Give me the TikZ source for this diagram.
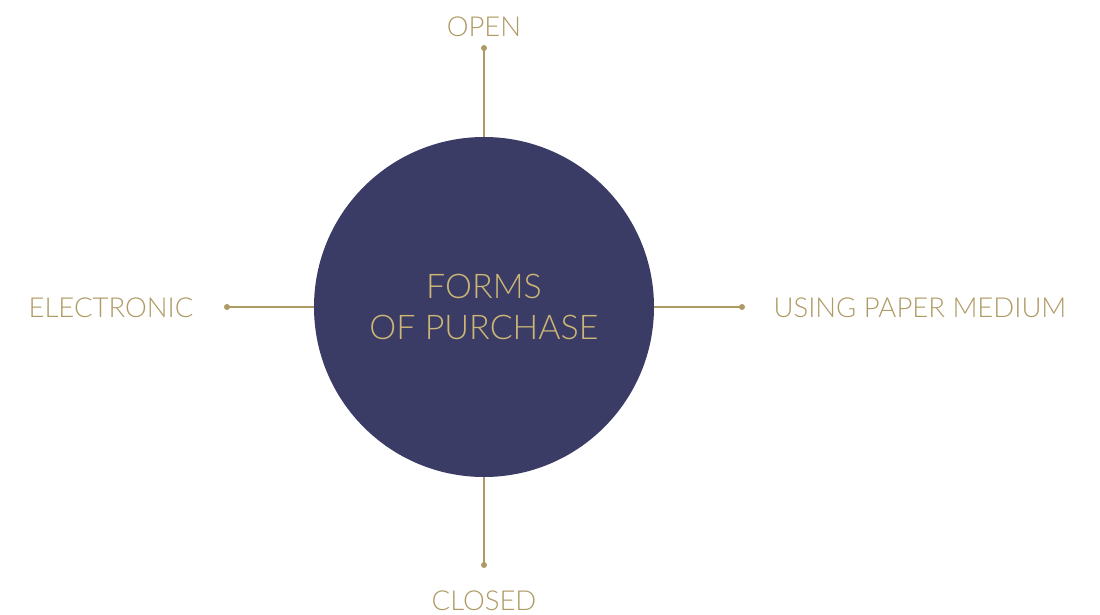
\documentclass[tikz,border=0pt]{standalone}
\usepackage{fontspec}
\setmainfont{Lato}[UprightFont=* Light]
\usepackage{xcolor}
\usepackage{tikz}
\usetikzlibrary{positioning}
\definecolor{gold}{HTML}{AE9A64}
\definecolor{goldL}{HTML}{CDB676}
\definecolor{navy}{HTML}{3A3C65}

\begin{document}
\begin{tikzpicture}[x=1pt, y=-1pt,
  lbl/.style={text=gold, font=\fontsize{27.5}{30}\selectfont, inner sep=0pt},
  link/.style={gold, line width=1.3pt},
  tip/.style={fill=gold}]
\useasboundingbox (0,0) rectangle (1100,614);
\node[circle, fill=navy, minimum size=340pt, inner sep=0pt, text=goldL, align=center,
  font=\fontsize{34}{41}\selectfont] (core) at (484,307) {FORMS\\OF PURCHASE};
\node[lbl] (open) at (484,27) {OPEN};
\node[lbl] (closed) at (484,601) {CLOSED};
\node[lbl] (elec) at (111,308) {ELECTRONIC};
\node[lbl] (paper) at (920,308) {USING PAPER MEDIUM};
\coordinate (openpt) at (484,48); \coordinate (closedpt) at (484,565);
\coordinate (elecpt) at (227,307); \coordinate (paperpt) at (742,307);
\draw[link] (core.north) -- (openpt); \fill[tip] (openpt) circle (3pt);
\draw[link] (core.south) -- (closedpt); \fill[tip] (closedpt) circle (3pt);
\draw[link] (core.west) -- (elecpt); \fill[tip] (elecpt) circle (3pt);
\draw[link] (core.east) -- (paperpt); \fill[tip] (paperpt) circle (3pt);
\end{tikzpicture}
\end{document}
